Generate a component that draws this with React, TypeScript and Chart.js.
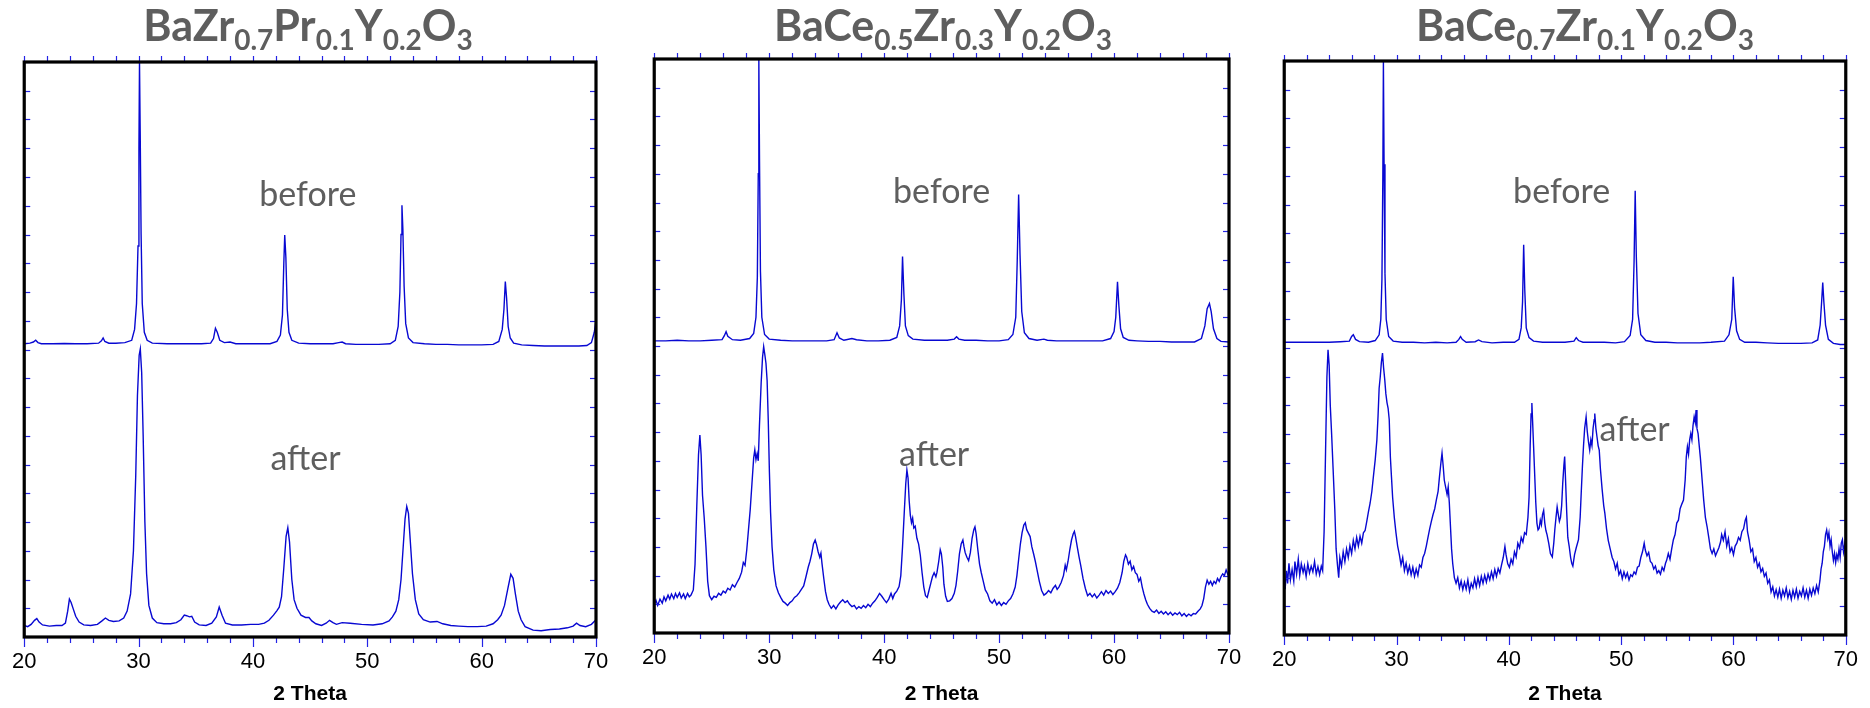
import React, { useEffect, useRef } from "react";
import { Chart, registerables } from "chart.js";

Chart.register(...registerables);

// ---------- data ----------
const xTickValues = [20, 30, 40, 50, 60, 70];
const xTickLabels = ["20", "30", "40", "50", "60", "70"];
const xAxisTitle = "2 Theta";
const curveLabels = ["before", "after"];

type Seg = [string, number];
const title1: Seg[] = [["BaZr", 0], ["0.7", 1], ["Pr", 0], ["0.1", 1], ["Y", 0], ["0.2", 1], ["O", 0], ["3", 1]];
const title2: Seg[] = [["BaCe", 0], ["0.5", 1], ["Zr", 0], ["0.3", 1], ["Y", 0], ["0.2", 1], ["O", 0], ["3", 1]];
const title3: Seg[] = [["BaCe", 0], ["0.7", 1], ["Zr", 0], ["0.1", 1], ["Y", 0], ["0.2", 1], ["O", 0], ["3", 1]];

const p1Before = [
  [20.0,51.0],[20.5,51.1],[20.8,51.3],[21.0,51.6],[21.2,51.2],[21.5,51.0],[22.5,51.0],[23.5,51.05],[24.5,51.0],[25.5,51.0],[26.5,51.1],[26.75,51.5],[26.9,52.0],[27.05,51.4],[27.4,51.1],[28.0,51.1],[28.8,51.2],[29.4,51.6],[29.65,53.5],[29.82,58],[29.95,68],[30.03,85],[30.08,100],[30.14,88],[30.22,70],[30.32,58],[30.5,53],[30.75,51.6],[31.2,51.1],[32.5,51.0],[33.5,51.0],[34.5,51.0],[35.5,51.0],[36.3,51.1],[36.55,51.9],[36.72,53.7],[36.88,53.0],[37.1,51.6],[37.5,51.2],[38.0,51.3],[38.5,51.0],[39.5,51.0],[40.5,51.0],[41.5,51.0],[42.1,51.4],[42.4,52.5],[42.58,56],[42.7,65],[42.78,69.9],[42.88,66],[43.0,57],[43.15,53],[43.4,51.6],[44.0,51.1],[45.0,51.0],[46.0,51.0],[47.0,51.0],[47.5,51.2],[47.8,51.3],[48.1,51.0],[49.0,50.9],[50.0,50.9],[51.0,50.9],[52.0,51.0],[52.45,51.6],[52.7,54],[52.85,60],[52.95,70],[53.03,75.1],[53.11,71],[53.22,61],[53.36,54.5],[53.6,52],[54.0,51.2],[55.0,51.0],[56.0,50.9],[57.0,50.9],[58.0,50.8],[59.0,50.8],[60.0,50.8],[61.0,50.9],[61.5,51.4],[61.8,53.5],[61.95,57],[62.07,61.8],[62.18,59],[62.32,54],[62.5,52],[62.8,51.1],[63.5,50.8],[64.5,50.7],[65.5,50.6],[66.5,50.6],[67.5,50.6],[68.5,50.6],[69.2,50.7],[69.6,51.2],[69.85,53],[70.0,55.1]
];

const p1After = [
  [20.0,2.0],[20.3,1.8],[20.6,2.2],[20.9,2.9],[21.1,3.2],[21.3,2.6],[21.6,2.1],[22.2,1.9],[22.8,2.0],[23.3,2.0],[23.6,2.4],[23.8,4.5],[23.95,6.6],[24.1,6.0],[24.3,4.8],[24.5,3.6],[24.8,2.6],[25.2,2.1],[25.8,2.0],[26.4,2.2],[26.8,2.8],[27.1,3.3],[27.4,2.9],[27.8,2.7],[28.3,2.8],[28.7,3.3],[29.0,4.5],[29.3,7.5],[29.55,15],[29.75,28],[29.9,42],[30.05,49],[30.15,50.1],[30.27,46],[30.4,35],[30.55,20],[30.7,11],[30.9,5.5],[31.2,3.3],[31.6,2.5],[32.2,2.3],[32.8,2.3],[33.3,2.5],[33.7,3.0],[34.0,3.8],[34.2,3.7],[34.45,3.5],[34.65,3.6],[34.9,2.6],[35.3,2.1],[35.9,2.0],[36.4,2.4],[36.8,3.5],[37.05,5.2],[37.3,3.8],[37.6,2.4],[38.2,2.1],[39.0,2.1],[39.8,2.2],[40.5,2.2],[41.0,2.4],[41.4,2.9],[41.8,3.8],[42.1,4.6],[42.3,5.2],[42.5,7.0],[42.7,12.0],[42.9,17.5],[43.05,19.0],[43.2,16.5],[43.4,10.0],[43.6,6.5],[43.85,5.0],[44.2,3.8],[44.6,3.4],[44.9,3.4],[45.15,2.8],[45.5,2.3],[46.0,2.0],[46.4,2.4],[46.7,2.9],[47.0,2.5],[47.3,2.2],[47.8,2.5],[48.5,2.4],[49.5,2.2],[50.5,2.1],[51.3,2.3],[51.9,2.8],[52.2,3.5],[52.5,4.5],[52.75,6.5],[52.95,10],[53.15,16],[53.3,20.5],[53.45,22.7],[53.6,21.5],[53.75,17],[53.95,11],[54.2,6.5],[54.5,4.0],[54.9,3.0],[55.5,2.6],[56.1,2.7],[56.6,2.3],[57.3,2.0],[58.0,1.9],[58.8,1.8],[59.6,1.8],[60.4,1.9],[61.0,2.3],[61.4,3.0],[61.7,3.8],[62.0,5.5],[62.3,8.5],[62.55,10.9],[62.75,10.2],[62.95,7.5],[63.2,4.5],[63.45,3.0],[63.8,1.8],[64.5,1.2],[65.2,1.1],[66.0,1.3],[66.8,1.4],[67.5,1.6],[68.0,1.9],[68.3,2.4],[68.6,2.0],[69.1,1.8],[69.6,2.2],[70.0,3.0]
];

const p2Before = [
  [20.0,50.9],[21.0,50.9],[22.0,51.0],[23.0,50.9],[24.0,50.9],[25.0,51.0],[25.9,51.1],[26.1,51.8],[26.25,52.5],[26.4,51.7],[26.8,51.1],[27.5,51.0],[28.3,51.3],[28.65,52.2],[28.85,55],[28.97,62],[29.05,80],[29.1,100],[29.16,82],[29.24,63],[29.36,55],[29.6,52],[30.0,51.2],[31.0,51.0],[32.0,50.9],[33.0,50.9],[34.0,50.9],[35.0,50.9],[35.65,51.1],[35.9,52.3],[36.1,51.4],[36.5,51.0],[37.2,51.3],[37.6,51.1],[38.5,50.9],[39.5,50.9],[40.5,51.0],[41.1,51.5],[41.35,53.5],[41.5,58],[41.6,65.6],[41.72,59],[41.85,53.5],[42.1,51.8],[42.5,51.2],[43.5,51.0],[44.5,51.0],[45.5,51.0],[46.1,51.2],[46.3,51.6],[46.5,51.2],[47.0,51.0],[48.0,51.0],[49.0,50.9],[50.0,50.9],[50.8,51.1],[51.2,52.0],[51.45,55],[51.58,65],[51.7,76.4],[51.82,66],[51.97,56],[52.2,52.3],[52.6,51.3],[53.3,51.0],[53.9,51.2],[54.2,51.0],[55.0,50.9],[56.0,50.9],[57.0,50.9],[58.0,50.9],[59.0,50.9],[59.7,51.3],[60.0,52.5],[60.15,55],[60.3,61.2],[60.42,57],[60.57,53],[60.8,51.5],[61.3,51.0],[62.0,50.9],[63.0,50.8],[64.0,50.8],[65.0,50.7],[66.0,50.7],[67.0,50.7],[67.6,51.3],[67.9,53.5],[68.1,56.5],[68.3,57.4],[68.45,56],[68.65,53],[68.95,51.3],[69.3,50.8],[70.0,50.7]
];

const p2After = [
  [20.0,5.0],[20.15,5.7],[20.3,4.8],[20.5,5.9],[20.7,5.2],[20.85,6.3],[21.0,5.6],[21.2,6.6],[21.35,5.9],[21.5,6.8],[21.7,6.0],[21.85,6.9],[22.0,6.2],[22.2,7.0],[22.35,6.1],[22.55,6.8],[22.7,6.0],[22.9,6.9],[23.05,6.3],[23.2,6.6],[23.4,7.5],[23.55,12],[23.7,22],[23.85,31],[23.97,34.5],[24.08,31],[24.2,24],[24.35,20],[24.5,15],[24.65,9],[24.8,6.5],[25.0,5.8],[25.2,6.4],[25.4,6.2],[25.6,6.9],[25.8,6.6],[26.0,7.3],[26.2,7.0],[26.4,7.8],[26.6,7.5],[26.8,8.4],[27.0,8.0],[27.2,8.8],[27.4,9.5],[27.6,10.6],[27.75,12.3],[27.9,11.8],[28.05,14.5],[28.2,18],[28.35,21.5],[28.5,26],[28.65,30.5],[28.75,31.9],[28.85,30.2],[28.95,31.2],[29.05,30.0],[29.15,36],[29.3,43.5],[29.42,48],[29.52,49.9],[29.62,48.5],[29.72,47],[29.82,44],[29.92,37],[30.02,28],[30.12,21],[30.25,15],[30.4,11],[30.6,8.2],[30.8,7.0],[31.0,6.2],[31.2,5.5],[31.4,5.2],[31.6,4.8],[31.8,5.3],[32.0,5.6],[32.2,6.2],[32.4,6.5],[32.6,7.0],[32.8,7.6],[33.0,8.2],[33.2,9.8],[33.4,11.5],[33.55,12.5],[33.7,13.8],[33.85,15.5],[34.0,16.2],[34.12,15.4],[34.25,14.2],[34.4,13.2],[34.5,13.9],[34.6,12.0],[34.75,9.5],[34.9,7.2],[35.05,5.8],[35.2,5.0],[35.4,4.3],[35.6,4.8],[35.8,4.2],[36.0,4.9],[36.2,5.4],[36.4,5.8],[36.6,5.3],[36.8,5.6],[37.0,5.0],[37.2,4.6],[37.4,4.8],[37.6,4.2],[37.8,4.6],[38.0,4.3],[38.2,4.8],[38.4,4.4],[38.6,5.0],[38.8,4.6],[39.0,5.2],[39.2,5.6],[39.4,6.2],[39.6,6.9],[39.8,6.4],[40.0,5.8],[40.2,5.3],[40.4,5.9],[40.6,6.9],[40.75,6.0],[40.9,6.8],[41.1,7.3],[41.3,8.1],[41.45,10],[41.6,15],[41.75,21],[41.88,26],[41.98,28.4],[42.08,27],[42.18,23],[42.28,20.5],[42.38,19.2],[42.48,20.0],[42.58,18.3],[42.7,18.6],[42.85,16.5],[43.0,15.5],[43.15,13.5],[43.3,10.5],[43.45,8.0],[43.6,6.5],[43.75,6.2],[43.9,7.4],[44.05,8.6],[44.2,9.8],[44.35,10.5],[44.5,9.8],[44.6,10.6],[44.75,12.5],[44.88,14.5],[44.98,13.8],[45.1,11.5],[45.2,8.5],[45.35,6.4],[45.5,5.5],[45.7,5.6],[45.9,6.0],[46.1,6.9],[46.25,8.3],[46.4,10.8],[46.55,13.8],[46.7,15.5],[46.85,16.2],[46.95,15.0],[47.05,14.0],[47.2,13.2],[47.35,12.6],[47.5,14.0],[47.65,16.5],[47.8,18.0],[47.9,18.5],[48.0,17.3],[48.15,14.5],[48.3,12.0],[48.45,10.5],[48.6,9.2],[48.8,7.5],[49.0,6.8],[49.2,5.6],[49.4,5.2],[49.6,5.8],[49.8,4.9],[50.0,5.4],[50.2,4.8],[50.4,5.3],[50.6,5.0],[50.8,5.6],[51.0,6.0],[51.2,6.8],[51.4,8.0],[51.55,10],[51.7,12.8],[51.85,15.5],[52.0,17.5],[52.15,18.8],[52.28,19.2],[52.4,18.0],[52.55,17.4],[52.7,16.8],[52.85,15.0],[53.0,13.8],[53.15,12.5],[53.3,11.0],[53.5,9.0],[53.7,7.4],[53.9,6.6],[54.1,6.9],[54.3,7.4],[54.5,7.0],[54.7,7.8],[54.9,8.3],[55.05,7.6],[55.2,8.0],[55.4,8.8],[55.6,10.0],[55.75,11.8],[55.85,11.0],[56.0,12.5],[56.15,14.5],[56.3,16.2],[56.45,17.3],[56.55,17.7],[56.65,16.8],[56.8,15.0],[56.95,13.3],[57.1,11.8],[57.3,9.5],[57.5,7.8],[57.7,6.5],[57.9,6.9],[58.1,6.3],[58.3,6.8],[58.5,6.1],[58.7,6.6],[58.9,7.2],[59.1,6.6],[59.3,7.4],[59.5,6.9],[59.7,7.3],[59.9,6.7],[60.1,7.2],[60.3,7.8],[60.5,8.8],[60.7,10.5],[60.85,12.5],[61.0,13.6],[61.1,13.2],[61.25,12.0],[61.4,12.5],[61.55,11.0],[61.7,11.6],[61.85,10.5],[62.0,10.2],[62.15,9.0],[62.3,9.6],[62.45,8.0],[62.6,6.8],[62.75,5.8],[62.9,5.0],[63.1,4.3],[63.3,3.8],[63.5,3.6],[63.7,4.0],[63.9,3.4],[64.1,3.8],[64.3,3.3],[64.5,3.7],[64.7,3.2],[64.9,3.6],[65.1,3.1],[65.3,3.5],[65.5,3.2],[65.7,3.6],[65.9,3.0],[66.1,3.4],[66.3,2.9],[66.5,3.3],[66.7,3.0],[66.9,3.4],[67.1,3.3],[67.3,3.8],[67.5,4.2],[67.65,4.8],[67.8,6.0],[67.95,8.0],[68.1,9.2],[68.25,8.5],[68.4,9.0],[68.55,8.3],[68.7,9.0],[68.85,8.6],[69.0,9.5],[69.15,9.0],[69.3,9.8],[69.45,10.3],[69.6,10.0],[69.75,11.0],[69.9,10.2],[70.0,10.5]
];

const p3Before = [
  [20.0,51.0],[21.0,51.0],[22.0,51.0],[23.0,51.0],[24.0,51.0],[25.0,51.1],[25.8,51.2],[26.0,52.0],[26.15,52.3],[26.35,51.5],[26.7,51.1],[27.5,51.0],[28.1,51.3],[28.45,52.3],[28.6,55],[28.7,62],[28.78,80],[28.83,100],[28.89,82],[28.97,63],[29.08,55],[29.3,52],[29.7,51.2],[30.5,51.0],[31.5,51.0],[32.5,50.9],[33.5,51.0],[34.5,50.9],[35.3,51.0],[35.55,51.5],[35.7,52.0],[35.85,51.5],[36.2,51.0],[37.0,51.1],[37.3,51.4],[37.6,51.1],[38.5,50.9],[39.5,51.0],[40.5,51.0],[40.9,51.5],[41.1,53.5],[41.22,58],[41.32,68],[41.42,60],[41.55,53.5],[41.8,51.8],[42.2,51.2],[43.0,51.0],[44.0,51.0],[45.0,51.0],[45.8,51.2],[46.0,51.8],[46.2,51.3],[46.6,51.0],[47.5,51.0],[48.5,51.0],[49.5,50.9],[50.3,51.1],[50.8,52.2],[51.02,55],[51.15,65],[51.25,77.4],[51.35,66],[51.5,56],[51.75,52.3],[52.2,51.3],[53.0,51.0],[54.0,51.0],[55.0,50.9],[56.0,50.9],[57.0,50.9],[58.0,51.0],[59.2,51.2],[59.6,52.3],[59.85,55],[59.98,62.4],[60.1,57],[60.28,53],[60.55,51.5],[61.0,51.0],[62.0,51.0],[63.0,50.9],[64.0,50.8],[65.0,50.8],[66.0,50.8],[67.0,50.9],[67.5,51.4],[67.72,54],[67.85,58],[67.95,61.4],[68.05,58],[68.2,54],[68.45,51.5],[68.9,50.8],[69.5,50.6],[70.0,50.6]
];

const p3After = [
  [20.0,10.2],[20.08,8.0],[20.2,11.2],[20.3,9.0],[20.42,12.5],[20.55,9.6],[20.7,11.4],[20.85,9.4],[20.95,12.8],[21.1,10.6],[21.25,13.2],[21.38,10.4],[21.52,12.4],[21.68,10.9],[21.8,12.0],[21.95,10.2],[22.1,12.4],[22.25,10.8],[22.4,12.0],[22.55,11.0],[22.7,12.8],[22.85,10.6],[23.0,11.9],[23.15,10.5],[23.3,12.0],[23.42,11.2],[23.55,18],[23.68,32],[23.8,45],[23.9,49.7],[24.0,47],[24.1,40],[24.22,35],[24.35,29],[24.5,22],[24.62,15],[24.75,12],[24.85,10.0],[24.95,13.5],[25.1,12.0],[25.25,14.5],[25.4,12.8],[25.55,15.0],[25.7,13.5],[25.85,15.6],[26.0,14.2],[26.15,16.5],[26.3,15.0],[26.45,17.0],[26.6,15.5],[26.75,17.2],[26.9,16.0],[27.05,17.8],[27.2,18.2],[27.35,19.8],[27.5,21.5],[27.65,23.0],[27.8,25.0],[27.95,27.8],[28.1,30.5],[28.25,34.0],[28.35,38],[28.45,43],[28.55,45],[28.65,47.5],[28.75,49.1],[28.85,46.5],[28.95,44.5],[29.05,42.0],[29.15,40.5],[29.25,39.5],[29.35,37.5],[29.45,31],[29.55,27.5],[29.65,24],[29.8,20.5],[29.95,17.8],[30.1,15.5],[30.25,14.0],[30.4,12.2],[30.55,13.5],[30.7,11.2],[30.85,12.5],[31.0,10.8],[31.15,12.0],[31.3,10.5],[31.45,11.8],[31.6,10.2],[31.75,11.5],[31.9,10.4],[32.05,12.2],[32.2,11.8],[32.35,13.5],[32.5,14.2],[32.65,15.5],[32.8,17.0],[32.95,18.5],[33.1,19.8],[33.25,21.0],[33.4,22.0],[33.55,23.6],[33.7,25.0],[33.82,27.5],[33.95,30.0],[34.05,31.7],[34.15,29.5],[34.25,27.0],[34.35,26.0],[34.5,24.5],[34.6,25.8],[34.7,23.0],[34.8,19.0],[34.9,15.0],[35.0,12.5],[35.15,10.0],[35.3,9.0],[35.45,10.0],[35.6,8.2],[35.75,9.4],[35.9,7.9],[36.05,9.2],[36.2,8.0],[36.35,9.6],[36.5,7.6],[36.65,9.0],[36.8,8.2],[36.95,9.8],[37.1,8.4],[37.25,10.0],[37.4,8.6],[37.55,10.2],[37.7,9.0],[37.85,10.4],[38.0,9.2],[38.15,10.6],[38.3,9.6],[38.45,11.0],[38.6,9.8],[38.75,11.4],[38.9,10.2],[39.05,11.6],[39.2,10.8],[39.35,12.2],[39.5,13.5],[39.65,15.4],[39.75,14.0],[39.9,12.4],[40.05,11.8],[40.2,13.2],[40.35,12.4],[40.5,14.5],[40.65,13.6],[40.8,16.0],[40.95,15.2],[41.1,17.0],[41.25,16.2],[41.4,17.8],[41.55,17.5],[41.7,20.5],[41.8,24],[41.9,33],[41.98,38.5],[42.05,40.4],[42.12,37],[42.2,33],[42.3,28],[42.4,23],[42.5,19.5],[42.6,18.3],[42.7,18.6],[42.8,20.0],[42.9,19.2],[43.0,21.0],[43.1,21.7],[43.2,19.5],[43.3,18.2],[43.4,17.5],[43.55,16.0],[43.7,14.2],[43.87,13.6],[44.0,16.0],[44.1,18.5],[44.2,20.5],[44.3,22.3],[44.4,21.0],[44.5,19.8],[44.6,20.5],[44.7,22.5],[44.8,26.5],[44.9,29.5],[44.97,31.1],[45.05,27.0],[45.15,21.5],[45.25,17.0],[45.37,15.5],[45.5,13.5],[45.6,12.5],[45.7,12.0],[45.85,14.0],[46.0,15.2],[46.2,16.6],[46.35,20.5],[46.45,25.0],[46.55,29.3],[46.65,33.0],[46.75,36.0],[46.88,38.0],[46.98,35.5],[47.1,33.5],[47.2,32.2],[47.3,34.0],[47.4,33.0],[47.5,36.0],[47.6,37.5],[47.65,38.6],[47.75,36.0],[47.85,34.5],[47.95,33.0],[48.05,32.2],[48.15,29.0],[48.3,25.5],[48.45,22.5],[48.55,21.2],[48.7,18.5],[48.85,16.5],[49.05,14.8],[49.2,13.5],[49.35,12.8],[49.5,11.5],[49.65,12.5],[49.8,10.5],[49.95,11.2],[50.1,9.8],[50.25,11.0],[50.4,10.0],[50.55,10.8],[50.7,9.6],[50.85,10.5],[51.0,10.2],[51.15,11.0],[51.3,10.6],[51.45,11.8],[51.6,12.0],[51.75,13.5],[51.9,14.5],[52.05,16.0],[52.15,14.8],[52.3,13.8],[52.45,14.4],[52.6,12.8],[52.75,12.5],[52.9,11.5],[53.05,12.0],[53.2,10.8],[53.35,11.2],[53.5,10.6],[53.65,11.8],[53.8,11.2],[53.95,12.5],[54.05,13.0],[54.2,14.2],[54.35,13.2],[54.5,15.0],[54.65,16.6],[54.8,17.5],[54.95,19.5],[55.1,20.0],[55.25,22.0],[55.4,22.8],[55.55,23.5],[55.7,27.0],[55.8,31.0],[55.9,32.8],[56.0,31.5],[56.1,34.0],[56.2,35.1],[56.3,34.0],[56.4,36.5],[56.5,38.0],[56.6,37.0],[56.67,39.2],[56.75,36.0],[56.85,35.1],[56.95,33.0],[57.05,31.0],[57.15,28.5],[57.25,26.0],[57.35,23.5],[57.5,20.5],[57.65,18.9],[57.8,17.0],[57.95,15.0],[58.1,14.2],[58.25,15.0],[58.4,13.8],[58.55,14.5],[58.7,15.2],[58.85,16.2],[58.95,17.5],[59.1,16.5],[59.25,18.0],[59.4,15.5],[59.55,16.8],[59.7,14.5],[59.85,15.2],[60.0,14.0],[60.15,15.5],[60.3,16.0],[60.45,17.0],[60.6,16.5],[60.75,18.0],[60.9,18.5],[61.05,20.0],[61.15,20.5],[61.25,18.0],[61.4,16.5],[61.55,14.5],[61.7,15.0],[61.85,12.8],[62.0,13.5],[62.15,11.8],[62.3,12.5],[62.45,11.0],[62.6,11.6],[62.75,10.2],[62.9,10.8],[63.05,9.0],[63.2,9.6],[63.35,7.5],[63.5,8.4],[63.65,6.8],[63.8,7.9],[63.95,6.6],[64.1,8.0],[64.25,6.4],[64.4,7.8],[64.55,6.8],[64.7,8.2],[64.85,6.5],[65.0,7.6],[65.15,6.2],[65.3,7.8],[65.45,6.6],[65.6,8.0],[65.75,6.4],[65.9,7.6],[66.05,6.8],[66.2,8.2],[66.35,6.6],[66.5,7.8],[66.65,6.4],[66.8,8.0],[66.95,6.9],[67.1,8.2],[67.25,7.2],[67.4,8.6],[67.55,7.5],[67.7,9.5],[67.8,11.5],[67.9,12.5],[68.0,14.5],[68.1,15.5],[68.2,17.5],[68.3,18.3],[68.4,16.8],[68.5,17.8],[68.6,15.5],[68.7,16.6],[68.8,14.5],[68.9,13.0],[69.0,14.2],[69.1,12.6],[69.2,14.0],[69.3,13.2],[69.4,15.0],[69.5,13.5],[69.6,16.0],[69.7,16.6],[69.8,14.5],[69.9,15.8],[70.0,13.6]
];

// label anchor positions in data units [x, y] for "before", "after"
const p1LabelPos = [[44.8, 75.0], [44.6, 29.0]];
const p2LabelPos = [[45.0, 74.9], [44.35, 29.1]];
const p3LabelPos = [[44.7, 75.3], [51.2, 33.8]];

// ---------- styles ----------
const LINE_COLOR = "#0808d2";
const TICK_COLOR = "#2424e6";
const TEXT_GRAY = "#5e5e5e";
const CANVAS_H = 708;
const AXIS_FONT = "'Liberation Sans', Arial, sans-serif";

const panels = [
  { title: title1, before: p1Before, after: p1After, labelPos: p1LabelPos, left: 0, width: 630, areaL: 21, areaR: 596, areaT: 62, areaB: 637, titleCx: 308 },
  { title: title2, before: p2Before, after: p2After, labelPos: p2LabelPos, left: 630, width: 630, areaL: 654, areaR: 1229, areaT: 59, areaB: 633, titleCx: 943 },
  { title: title3, before: p3Before, after: p3After, labelPos: p3LabelPos, left: 1260, width: 610, areaL: 1282, areaR: 1857, areaT: 61, areaB: 635, titleCx: 1585 },
];

const framePlugin = {
  id: "xrdFrame",
  afterDraw(chart: any, _args: any, opts: any) {
    const { ctx, chartArea: a, scales } = chart;
    const xs = scales.x;
    const ys = scales.y;
    ctx.save();
    ctx.strokeStyle = TICK_COLOR;
    ctx.lineWidth = 1.2;
    const seg = (x1: number, y1: number, x2: number, y2: number) => {
      ctx.beginPath();
      ctx.moveTo(x1, y1);
      ctx.lineTo(x2, y2);
      ctx.stroke();
    };
    for (let v = xs.min; v <= xs.max + 1e-6; v += 2) {
      const px = Math.round(xs.getPixelForValue(v)) + 0.5;
      const major = Math.abs(v % 10) < 1e-6;
      seg(px, a.bottom, px, a.bottom + (major ? 10 : 6));
      seg(px, a.top, px, a.top - 6);
    }
    for (let v = ys.min; v <= ys.max + 1e-6; v += 5) {
      const py = Math.round(ys.getPixelForValue(v)) + 0.5;
      seg(a.left, py, a.left + 6, py);
      seg(a.right, py, a.right - 6, py);
    }
    ctx.strokeStyle = "#000";
    ctx.lineWidth = 3.2;
    ctx.strokeRect(a.left, a.top, a.right - a.left, a.bottom - a.top);

    const mainFont = "bold 43px Lato, 'Open Sans', sans-serif";
    const subFont = "bold 28px Lato, 'Open Sans', sans-serif";
    const segs: Seg[] = opts.title;
    let total = 0;
    for (const [t, s] of segs) {
      ctx.font = s ? subFont : mainFont;
      total += ctx.measureText(t).width;
    }
    let x = opts.titleCx - total / 2;
    ctx.fillStyle = TEXT_GRAY;
    ctx.textAlign = "left";
    ctx.textBaseline = "alphabetic";
    for (const [t, s] of segs) {
      ctx.font = s ? subFont : mainFont;
      ctx.fillText(t, x, s ? 50 : 41);
      x += ctx.measureText(t).width;
    }

    ctx.font = "34px Lato, 'Open Sans', sans-serif";
    ctx.textAlign = "center";
    opts.labelPos.forEach((p: number[], i: number) => {
      ctx.fillText(curveLabels[i], xs.getPixelForValue(p[0]), ys.getPixelForValue(p[1]));
    });
    ctx.restore();
  },
};

function Panel({ cfg }: { cfg: any }) {
  const ref = useRef<HTMLCanvasElement>(null);
  useEffect(() => {
    if (!ref.current) return;
    const toPts = (arr: number[][]) => arr.map(([x, y]) => ({ x, y }));
    const ds = (arr: number[][]) => ({
      data: toPts(arr),
      borderColor: LINE_COLOR,
      borderWidth: 1.4,
      pointRadius: 0,
      tension: 0,
      fill: false,
    });
    const chart = new Chart(ref.current, {
      type: "line",
      data: { datasets: [ds(cfg.before), ds(cfg.after)] },
      options: {
        animation: false,
        responsive: false,
        events: [],
        layout: {
          padding: { left: cfg.areaL - cfg.left, right: cfg.left + cfg.width - cfg.areaR, top: cfg.areaT, bottom: 0 },
        },
        plugins: {
          legend: { display: false },
          tooltip: { enabled: false },
          xrdFrame: { title: cfg.title, titleCx: cfg.titleCx - cfg.left, labelPos: cfg.labelPos },
        } as any,
        scales: {
          x: {
            type: "linear",
            position: "bottom",
            min: 20,
            max: 70,
            afterFit: (s: any) => { s.height = CANVAS_H - cfg.areaB; },
            grid: { display: false, drawTicks: false },
            border: { display: false },
            ticks: {
              stepSize: 10,
              autoSkip: false,
              maxRotation: 0,
              padding: 12,
              color: "#000",
              font: { family: AXIS_FONT, size: 22 },
              callback: (v: any) => {
                const i = xTickValues.indexOf(Number(v));
                return i >= 0 ? xTickLabels[i] : "";
              },
            },
            title: {
              display: true,
              text: xAxisTitle,
              color: "#000",
              font: { family: AXIS_FONT, size: 21, weight: "bold" },
              padding: { top: 0, bottom: 1 },
            },
          },
          y: { type: "linear", min: 0, max: 100, display: false },
        },
      } as any,
      plugins: [framePlugin],
    });
    return () => chart.destroy();
  }, []);
  return (
    <canvas
      ref={ref}
      width={cfg.width}
      height={CANVAS_H}
      style={{ position: "absolute", left: cfg.left, top: 0, width: cfg.width, height: CANVAS_H }}
    />
  );
}

export default function App() {
  return (
    <div style={{ position: "absolute", left: 0, top: 0, width: 1870, height: CANVAS_H, background: "#fff" }}>
      {panels.map((p, i) => (
        <Panel key={i} cfg={p} />
      ))}
    </div>
  );
}
